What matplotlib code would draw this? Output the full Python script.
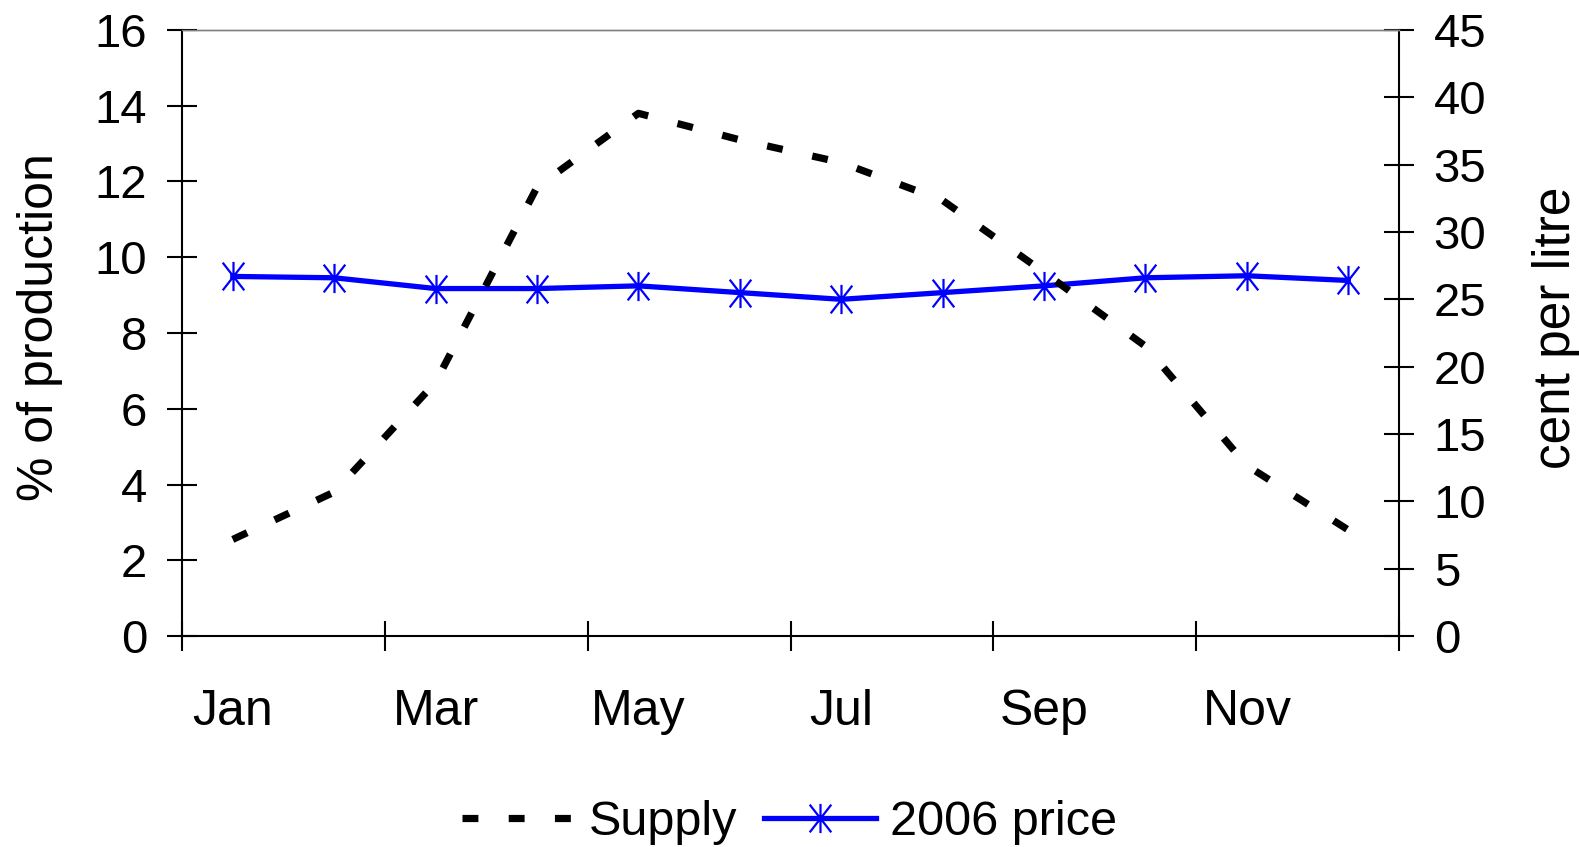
import matplotlib
matplotlib.use("Agg")
import matplotlib.pyplot as plt
from matplotlib.path import Path
import numpy as np

plt.rcParams['font.family'] = ['Liberation Sans', 'DejaVu Sans']

months = ['Jan', 'Feb', 'Mar', 'Apr', 'May', 'Jun',
          'Jul', 'Aug', 'Sep', 'Oct', 'Nov', 'Dec']
# % of production per month
supply = [2.55, 3.8, 6.7, 11.85, 13.8, 13.1, 12.5, 11.5, 9.6, 7.65, 4.5, 2.8]
# 2006 price, cent per litre
price = [26.7, 26.6, 25.8, 25.8, 26.0, 25.5, 25.0, 25.5, 26.0, 26.6, 26.75, 26.4]

left_ticks = list(range(0, 17, 2))
right_ticks = list(range(0, 46, 5))

# excel style star marker: vertical bar plus an X
star = Path([(0, -1), (0, 1), (-0.74, -0.95), (0.74, 0.95), (-0.74, 0.95), (0.74, -0.95)],
            [Path.MOVETO, Path.LINETO, Path.MOVETO, Path.LINETO, Path.MOVETO, Path.LINETO])

fig = plt.figure(figsize=(15.79, 8.47), dpi=100)
ax = fig.add_axes([0.1153, 0.2491, 0.7707, 0.7155])
ax2 = ax.twinx()

x = np.arange(len(months)) + 0.5

l1, = ax.plot(x, supply, color='black', lw=5.2, linestyle=(0, (2.2, 4.2)),
              dash_capstyle='butt', label='Supply', zorder=3)
l2, = ax2.plot(x, price, color='#0000ff', lw=3.8, marker=star, markersize=21,
               markeredgewidth=1.6, markerfacecolor='none', markeredgecolor='#0000ff',
               label='2006 price')

# supply on top of price
ax.set_zorder(ax2.get_zorder() + 1)
ax.patch.set_visible(False)

ax.set_xlim(0, 12)
ax.set_ylim(0, 16)
ax2.set_ylim(0, 45)

ax.set_xticks(np.arange(0, 13, 2))
ax.set_xticklabels([])
ax.set_xticks(x[::2], minor=True)
ax.set_xticklabels(months[::2], minor=True)
ax.tick_params(axis='x', which='major', direction='inout', length=22, width=1.5, color='black')
ax.tick_params(axis='x', which='minor', length=0, pad=38.5, labelsize=36)

ax.set_yticks(left_ticks)
ax2.set_yticks(right_ticks)
ax.tick_params(axis='y', direction='inout', length=22, width=1.5, pad=14, labelsize=34)
ax2.tick_params(axis='y', direction='inout', length=22, width=1.5, pad=14, labelsize=34)

for a in (ax, ax2):
    a.spines['top'].set_color('#808080')
    a.spines['top'].set_linewidth(1.0)
    a.spines['bottom'].set_linewidth(1.5)
    a.spines['left'].set_linewidth(1.5)
    a.spines['right'].set_linewidth(1.5)
ax.spines['right'].set_visible(False)
ax2.spines['left'].set_visible(False)
ax2.spines['bottom'].set_visible(False)

ax.set_ylabel('% of production', fontsize=36)
ax.yaxis.set_label_coords(-0.098, 0.51)
ax2.set_ylabel('cent per litre', fontsize=37)
ax2.yaxis.set_label_coords(1.109, 0.508)

fig.legend(handles=[l1, l2], loc='center', bbox_to_anchor=(0.5003, 0.029),
           ncol=2, frameon=False, fontsize=35, handlelength=2.3,
           handletextpad=0.3, columnspacing=0.55, borderpad=0)

fig.savefig('out.png', dpi=100)
